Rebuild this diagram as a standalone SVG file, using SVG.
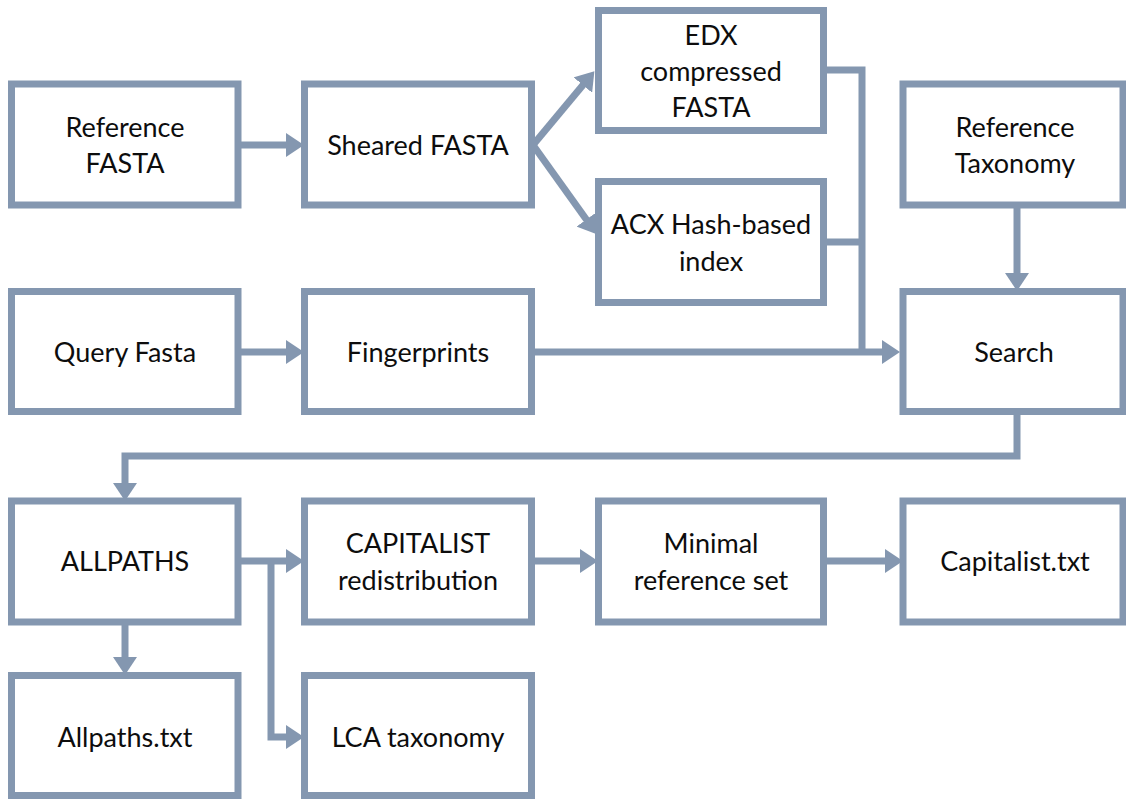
<svg xmlns="http://www.w3.org/2000/svg" width="1126" height="799" viewBox="0 0 1126 799">
<defs>
<style>
.box{fill:#ffffff;stroke:#8497b0;stroke-width:7}
.lbl{font-family:Lato,"Liberation Sans",sans-serif;font-size:27px;fill:#0d0d0d;text-anchor:middle}
.con{fill:none;stroke:#8497b0;stroke-width:7}
.arr{marker-end:url(#ah)}
</style>
<marker id="ah" markerUnits="userSpaceOnUse" markerWidth="18" markerHeight="24" refX="8" refY="12" orient="auto">
<path d="M0,0 L18,12 L0,24 z" fill="#8497b0"/>
</marker>
</defs>
<rect width="1126" height="799" fill="#ffffff"/>
<g id="connectors">
<path class="con arr" d="M238,145 H294"/>
<path class="con arr" d="M533,145 L588,79"/>
<path class="con arr" d="M533,145 L591,226"/>
<path class="con" d="M825,70 H862 V352"/>
<path class="con" d="M825,242 H862"/>
<path class="con arr" d="M531,352 H890"/>
<path class="con arr" d="M238,352 H294"/>
<path class="con arr" d="M1017,206 V281"/>
<path class="con arr" d="M1017,412 V456 H125 V491"/>
<path class="con arr" d="M125,622 V665"/>
<path class="con arr" d="M238,561 H294"/>
<path class="con arr" d="M271,561 V737 H294"/>
<path class="con arr" d="M531,561 H588"/>
<path class="con arr" d="M825,561 H893"/>
</g>
<g id="ref-fasta"><rect class="box" x="11.5" y="84" width="226.5" height="121"/><text class="lbl" x="125" y="137">Reference</text><text class="lbl" x="125" y="173">FASTA</text></g>
<g id="sheared-fasta"><rect class="box" x="304.5" y="84" width="227" height="121"/><text class="lbl" x="418" y="155">Sheared FASTA</text></g>
<g id="edx"><rect class="box" x="598.5" y="10.5" width="225" height="120"/><text class="lbl" x="711" y="45">EDX</text><text class="lbl" x="711" y="81">compressed</text><text class="lbl" x="711" y="117">FASTA</text></g>
<g id="acx"><rect class="box" x="598.5" y="181.5" width="225" height="121"/><text class="lbl" x="711" y="234">ACX Hash-based</text><text class="lbl" x="711" y="271">index</text></g>
<g id="ref-taxonomy"><rect class="box" x="903" y="84" width="220" height="121"/><text class="lbl" x="1015" y="137">Reference</text><text class="lbl" x="1015" y="173">Taxonomy</text></g>
<g id="query-fasta"><rect class="box" x="11.5" y="291.5" width="226.5" height="120"/><text class="lbl" x="125" y="362">Query Fasta</text></g>
<g id="fingerprints"><rect class="box" x="304.5" y="291.5" width="227" height="120"/><text class="lbl" x="418" y="362">Fingerprints</text></g>
<g id="search"><rect class="box" x="903" y="291.5" width="220" height="120"/><text class="lbl" x="1014" y="362">Search</text></g>
<g id="allpaths"><rect class="box" x="11.5" y="501" width="226.5" height="121"/><text class="lbl" x="125" y="571">ALLPATHS</text></g>
<g id="capitalist"><rect class="box" x="304.5" y="501" width="227" height="121"/><text class="lbl" x="418" y="553">CAPITALIST</text><text class="lbl" x="418" y="590">redistribution</text></g>
<g id="minimal"><rect class="box" x="598.5" y="501" width="225" height="121"/><text class="lbl" x="711" y="553">Minimal</text><text class="lbl" x="711" y="590">reference set</text></g>
<g id="capitalist-txt"><rect class="box" x="903" y="501" width="220" height="121"/><text class="lbl" x="1015" y="571">Capitalist.txt</text></g>
<g id="allpaths-txt"><rect class="box" x="11.5" y="675.5" width="226.5" height="120"/><text class="lbl" x="125" y="747">Allpaths.txt</text></g>
<g id="lca"><rect class="box" x="304.5" y="675.5" width="227" height="120"/><text class="lbl" x="418" y="747">LCA taxonomy</text></g>
</svg>
